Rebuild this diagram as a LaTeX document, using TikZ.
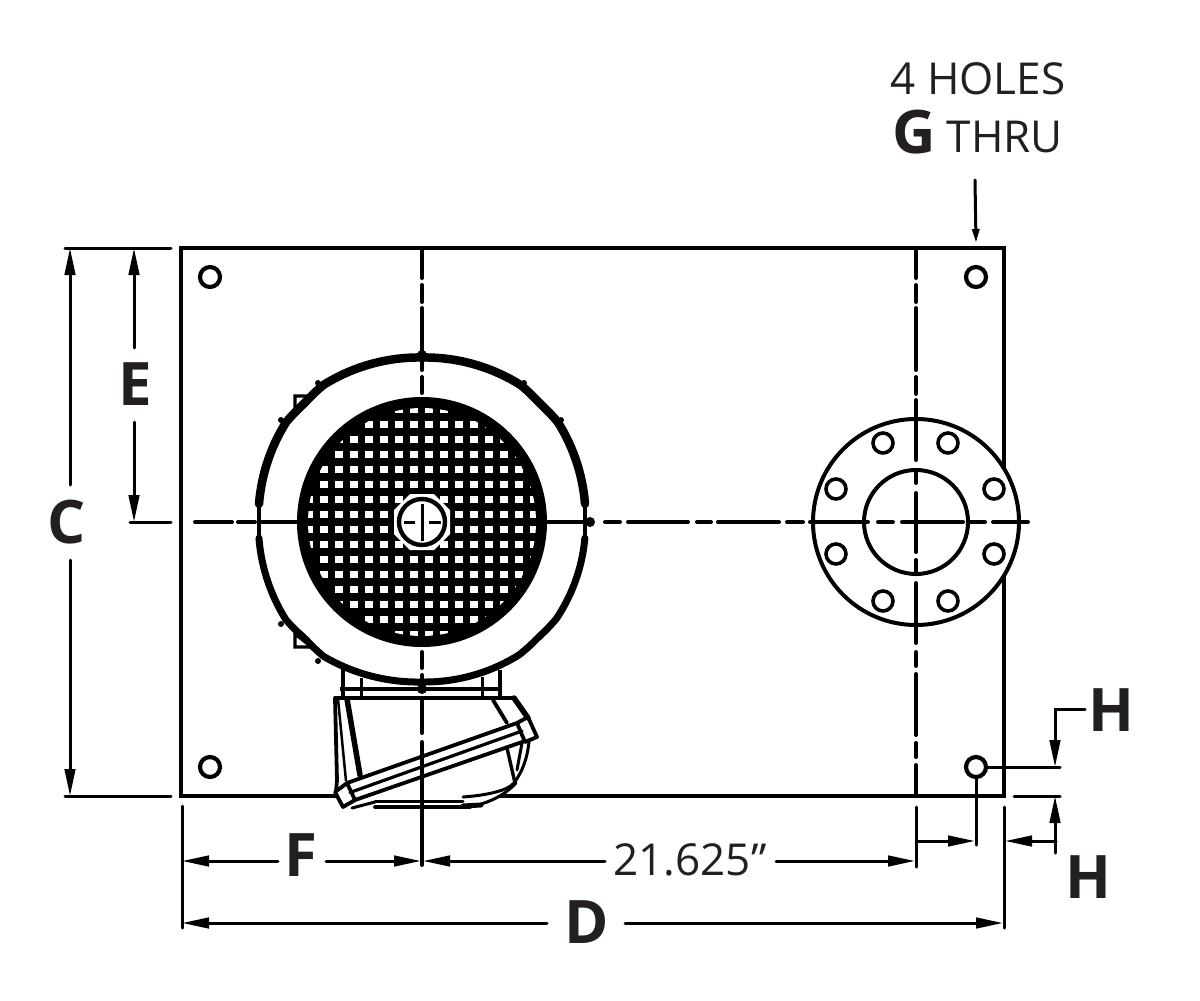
\documentclass[tikz,border=0pt]{standalone}
\usepackage{fontspec}
\setmainfont{Open Sans}
\usetikzlibrary{arrows.meta}
\definecolor{ink}{HTML}{231F20}
\tikzset{
  x=1pt,y=-1pt,
  plate/.style={line width=4.4pt,black,line join=miter},
  holeshape/.style={line width=4.2pt,black,fill=white},
  boltshape/.style={line width=3.6pt,black,fill=white},
  ringline/.style={line width=4pt,black},
  cl/.style={line width=4pt,black,line cap=round},
  dim/.style={line width=3pt,black,line cap=round},
  arr/.style={dim,-{Triangle[length=27pt,width=10.5pt]}},
  arrs/.style={dim,{Triangle[length=27pt,width=10.5pt]}-},
  big/.style={font=\bfseries\fontsize{60}{60}\selectfont,text=ink,inner sep=0pt},
  thin label/.style={font=\fontsize{44}{44}\selectfont,text=ink,inner sep=0pt},
  box/.style={line width=3.8pt,black,line join=round,line cap=round},
  declare function={
    bumpf(\a)=(\a<36)?(5*(\a/36)*(0.4+0.6*\a/36)):((\a<=54)?(3.2+1.8*abs(\a-45)/9):(5*((90-\a)/36)*(0.4+0.6*(90-\a)/36)));
    ringr(\t,\k)=163.5+\k*bumpf(mod(\t,90));
    ringl(\t,\k)=163.5-2.5*sin(\t)*sin(\t)+\k*bumpf(mod(\t,90));
  },
}
\begin{document}
\begin{tikzpicture}
\useasboundingbox (0,0) rectangle (1200,1001);
\fill[white] (0,0) rectangle (1200,1001);
% plate
\draw[plate] (181,248) rectangle (1004,796);
\foreach \hx/\hy in {210/277,976/277,210/767,976/767}
  \draw[holeshape] (\hx,\hy) circle (10);
% flange
\draw[ringline,fill=white] (916,522) circle (103);
\draw[ringline] (916,522) circle (52);
\foreach \hx/\hy in {883/443,948/443,836/489,994/489,836/554,994/554,883/601,948/601}
  \draw[boltshape] (\hx,\hy) circle (10);
% centre lines
\foreach \a/\b in {195/232,238/255,262/297,547/583,605/620,628/688,697/711,718/779,787/803,810/868,878/893,902/963,970/985,993/1028}
  \draw[cl] (\a,522) -- (\b,522);
\foreach \a/\b in {250/278,285/302,308/370,377/393,652/668,675/690}
  \draw[cl] (422,\a) -- (422,\b);
\foreach \a/\b in {250/278,285/302,308/370,377/394,400/460,473/483,493/552,560/572,583/643,652/666,674/735,743/757,765/796}
  \draw[cl] (916,\a) -- (916,\b);
% motor brackets
\draw[line width=3.2pt] (295,411) -- (295,396) -- (311,396) (295,411) -- (309,401);
\draw[line width=3.2pt] (308,644) -- (295,634) -- (295,647) -- (311,647);
% motor ring
\draw[line width=4pt] (259,503) -- (259,541) (585,503) -- (585,541);
\draw[line width=8.5pt,line cap=round,line join=round] plot[domain=186:354,samples=85] ({422+ringr(\x,0.9)*cos(\x)},{521+ringr(\x,0.9)*sin(\x)});
\draw[line width=7pt,line cap=round,line join=round] plot[domain=6:90,samples=43] ({422+ringl(\x,0.7)*cos(\x)},{521+ringl(\x,0.7)*sin(\x)});
\draw[line width=7pt,line cap=round,line join=round] plot[domain=90:174,samples=43] ({422+ringl(\x,1.1)*cos(\x)},{521+ringl(\x,1.1)*sin(\x)});
\foreach \nx/\ny in {318/383,281/420,524/383,561/420,281/624,318/661}
  \fill (\nx,\ny) circle (3);
\foreach \nx/\ny in {590/522,422/355,422/689}
  \fill (\nx,\ny) circle (5);
% grille
\fill (422,522) circle (125);
\begin{scope}
  \clip (422,522) circle (114);
  \foreach \i in {-8,...,7}
    \foreach \j in {-8,...,7}
      \fill[white] ({421.5+(\i+0.5)*15-3.6},{522+(\j+0.5)*15-3.6}) rectangle ++(7.2,7.2);
\end{scope}
\fill[white] (394,510) -- (410,494) -- (434,494) -- (450,510) -- (450,534) -- (434,550) -- (410,550) -- (394,534) -- cycle;
\draw[line width=4.4pt] (422,522) circle (23);
\draw[line width=3pt] (422,504) -- (422,541) (404,522) -- (415,522) (429,522) -- (441,522);
% legs
\draw[line width=4pt] (343,668) -- (343,698) (500,670) -- (500,698);
\draw[line width=3pt] (361,678) -- (361,698) (482,677) -- (482,698);
\draw[line width=4pt] (340,689) -- (502,689);
% terminal box
\fill[white] (335,698) -- (515,698) -- (537,737) -- (530,760) -- (516,785) -- (490,803) -- (460,808) -- (370,808) -- (345,808) -- (335,792) -- cycle;
\draw[box] (335,698) -- (515,698);
\draw[box] (335,698) -- (337,780) -- (336,792);
\draw[line width=2.5pt] (338,699) -- (346,781);
\draw[box,line width=5.5pt] (347,699) -- (360,775);
\draw[box] (493,700) -- (507,723);
\draw[box,line width=5.5pt] (514,698) -- (528,718);
\foreach \a/\b in {698/733,742/865}
  \draw[cl] (422,\a) -- (422,\b);
\draw[box] (347,783) -- (517,723);
\draw[box,line width=3.2pt] (350,792.5) -- (522,731);
\draw[box] (355,800) -- (525,741);
\draw[box] (335,792) -- (343,807) -- (355,800) -- (347,783) -- cycle;
\draw[box] (517,723) -- (528,717) -- (537,737) -- (525,742) -- cycle;
\draw[box,line width=3pt] (352,808) -- (375,802);
\draw[box,line width=3pt] (375,801) -- (463,801);
\draw[box] (375,807) -- (470,807);
\draw[box,line width=5pt] (463,806) -- (481,805);
\draw[box,line width=3pt] (463,797) .. controls (490,795) and (508,790) .. (514,783) .. controls (522,772) and (527,760) .. (529,742);
\draw[box,line width=3pt] (481,804) .. controls (495,800) and (508,792) .. (516,783);
\draw[box,line width=3.4pt] (507,748) -- (515,783);
\draw[box,line width=3pt] (522,743) -- (517,770);
% dimensions: left
\draw[dim] (65,248) -- (171,248);
\draw[dim] (65,796) -- (171,796);
\draw[dim] (130,522) -- (171,522);
\draw[arrs] (70,248) -- (70,485);
\draw[arr] (70,560) -- (70,796);
\draw[arrs] (134,248) -- (134,348);
\draw[arr] (134,422) -- (134,522);
\node[big] (labelC) at (67,522) {C};
\node[big] (labelE) at (135,384) {E};
% dimensions: bottom
\draw[dim] (182,806) -- (182,928);
\draw[dim] (916,807) -- (916,867);
\draw[dim] (1004,807) -- (1004,928);
\draw[arrs] (182,861) -- (278,861);
\draw[arr] (326,861) -- (421,861);
\draw[arrs] (423,861) -- (605,861);
\draw[arr] (776,861) -- (915,861);
\draw[arrs] (182,923) -- (547,923);
\draw[arr] (625,923) -- (1003,923);
\node[big] (labelF) at (301,855) {F};
\node[big] (labelD) at (587,922) {D};
\node[thin label] (label21) at (690,860) {21.625”};
% dimensions: H
\draw[dim] (976,777) -- (976,845);
\draw[dim] (987,767) -- (1060,767);
\draw[dim] (1014,796) -- (1060,796);
\draw[arr] (917,841) -- (975,841);
\draw[arr] (1056,841) -- (1005,841);
\draw[arr] (1055,853) -- (1055,796);
\draw[dim,-{Triangle[length=27pt,width=10.5pt]}] (1085,709.5) -- (1055,709.5) -- (1055,767);
\node[big] (labelH1) at (1111,710) {H};
\node[big] (labelH2) at (1088,877) {H};
% notes
\draw[line width=3pt,line cap=round,-{Triangle[length=14pt,width=7pt]}] (975,180) -- (976,243);
\node[thin label] (holes) at (978,79) {4 HOLES};
\node[big] (labelG) at (914,132) {G};
\node[thin label] (thru) at (1005,137) {THRU};
\end{tikzpicture}
\end{document}
